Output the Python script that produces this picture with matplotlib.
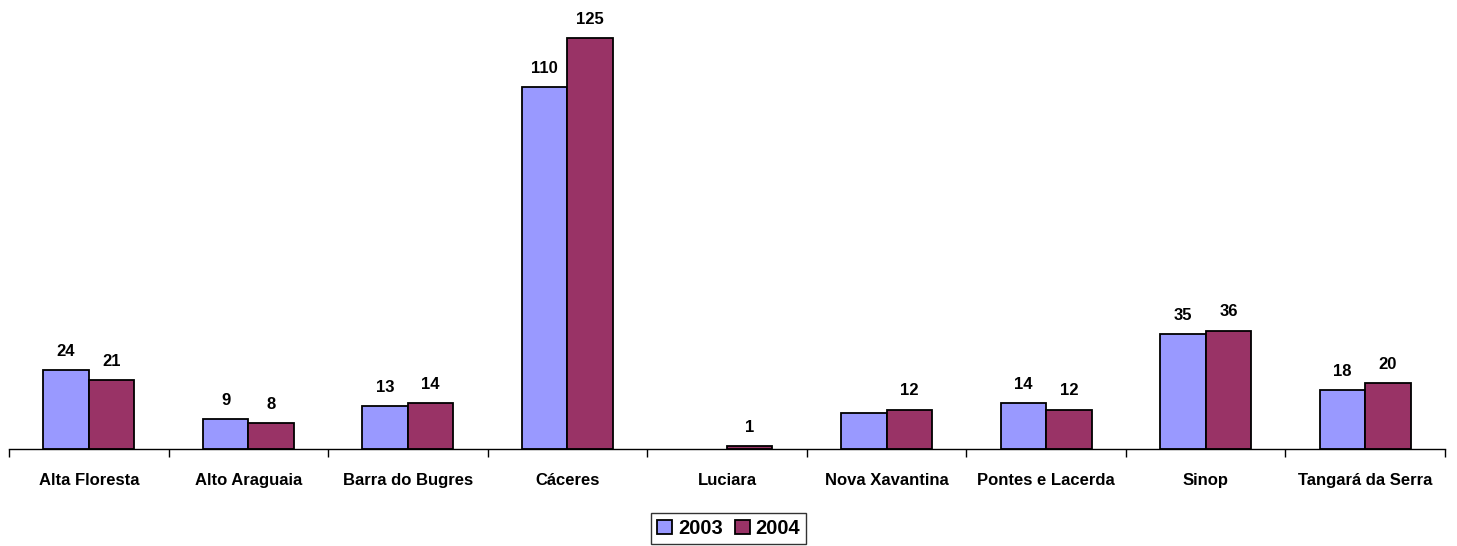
import matplotlib.pyplot as plt
import numpy as np

plt.rcParams["font.family"] = ["Liberation Sans", "DejaVu Sans"]

cities = ["Alta Floresta", "Alto Araguaia", "Barra do Bugres", "Cáceres", "Luciara",
          "Nova Xavantina", "Pontes e Lacerda", "Sinop", "Tangará da Serra"]
v2003 = [24, 9, 13, 110, np.nan, 11, 14, 35, 18]
v2004 = [21, 8, 14, 125, 1, 12, 12, 36, 20]
# the chart shows no label for Luciara / Nova Xavantina in 2003
labels2003 = ["24", "9", "13", "110", "", "", "14", "35", "18"]
labels2004 = ["21", "8", "14", "125", "1", "12", "12", "36", "20"]

W, H = 1457, 546
fig = plt.figure(figsize=(W / 100, H / 100), dpi=100)
ax = fig.add_axes([9 / W, (H - 449) / H, (1445 - 9) / W, (449 - 8) / H])

x = np.arange(len(cities))
bw = 0.285
b1 = ax.bar(x - bw / 2, v2003, bw, color="#9999FF", edgecolor="black", linewidth=1.3, label="2003")
b2 = ax.bar(x + bw / 2, v2004, bw, color="#993366", edgecolor="black", linewidth=1.3, label="2004")
ax.bar_label(b1, labels=labels2003, padding=8, fontsize=12, fontweight="bold")
ax.bar_label(b2, labels=labels2004, padding=8, fontsize=12, fontweight="bold")

ax.set_xlim(-0.5, len(cities) - 0.5)
ax.set_ylim(0, 134)
for s in ["top", "right", "left"]:
    ax.spines[s].set_visible(False)
ax.spines["bottom"].set_linewidth(1.0)
ax.set_yticks([])
ax.set_xticks(x)
ax.set_xticklabels(cities, fontsize=12, fontweight="bold")
ax.tick_params(axis="x", length=0, pad=17)
ax.set_xticks(np.arange(len(cities) + 1) - 0.5, minor=True)
ax.tick_params(axis="x", which="minor", length=6, width=1.0, direction="out")

leg = fig.legend(loc="upper center", bbox_to_anchor=(0.5, (H - 503) / H), ncol=2,
                 prop={"weight": "bold", "size": 14.5}, frameon=True, fancybox=False,
                 edgecolor="black", handlelength=0.75, handleheight=0.75,
                 handletextpad=0.3, columnspacing=0.6, borderpad=0.3)
leg.get_frame().set_linewidth(1.0)

plt.savefig("out.png", dpi=100)
